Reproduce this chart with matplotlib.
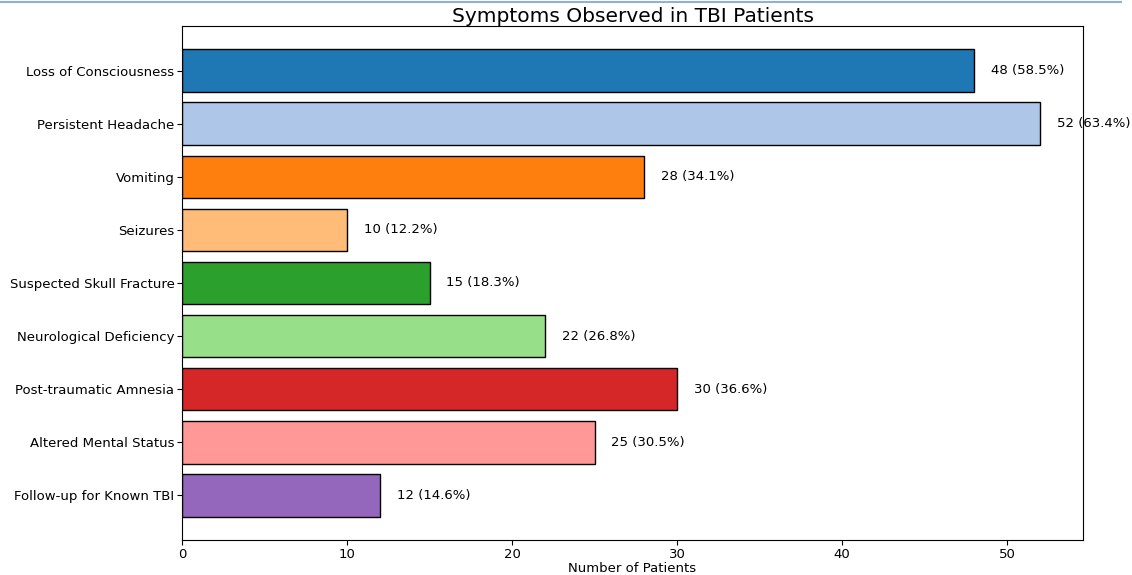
import matplotlib.pyplot as plt
from matplotlib.lines import Line2D

symptoms = ['Loss of Consciousness', 'Persistent Headache', 'Vomiting', 'Seizures',
            'Suspected Skull Fracture', 'Neurological Deficiency', 'Post-traumatic Amnesia',
            'Altered Mental Status', 'Follow-up for Known TBI']
counts = [48, 52, 28, 10, 15, 22, 30, 25, 12]
total_patients = 82

cmap = plt.get_cmap('tab20')
colors = [cmap(i) for i in range(len(symptoms))]

fig = plt.figure(figsize=(11.32, 5.75), dpi=100)
ax = fig.add_axes([0.1608, 0.0609, 0.796, 0.894])

ax.barh(symptoms, counts, color=colors, edgecolor='black', linewidth=1)
ax.invert_yaxis()

for i, c in enumerate(counts):
    pct = c / total_patients * 100
    ax.text(c + 1, i, f'{c} ({pct:.1f}%)', va='center', fontsize=9.5)

ax.set_title('Symptoms Observed in TBI Patients', fontsize=14.5, pad=3)
ax.set_xlabel('Number of Patients', fontsize=9.5, labelpad=1)
ax.tick_params(axis='both', labelsize=9.5, pad=2)

# thin rule across the top of the page
fig.add_artist(Line2D([0, 0.99], [0.997, 0.997], color='#8fb0dc', linewidth=1.5,
                      transform=fig.transFigure))

fig.savefig('out.png', dpi=100)
